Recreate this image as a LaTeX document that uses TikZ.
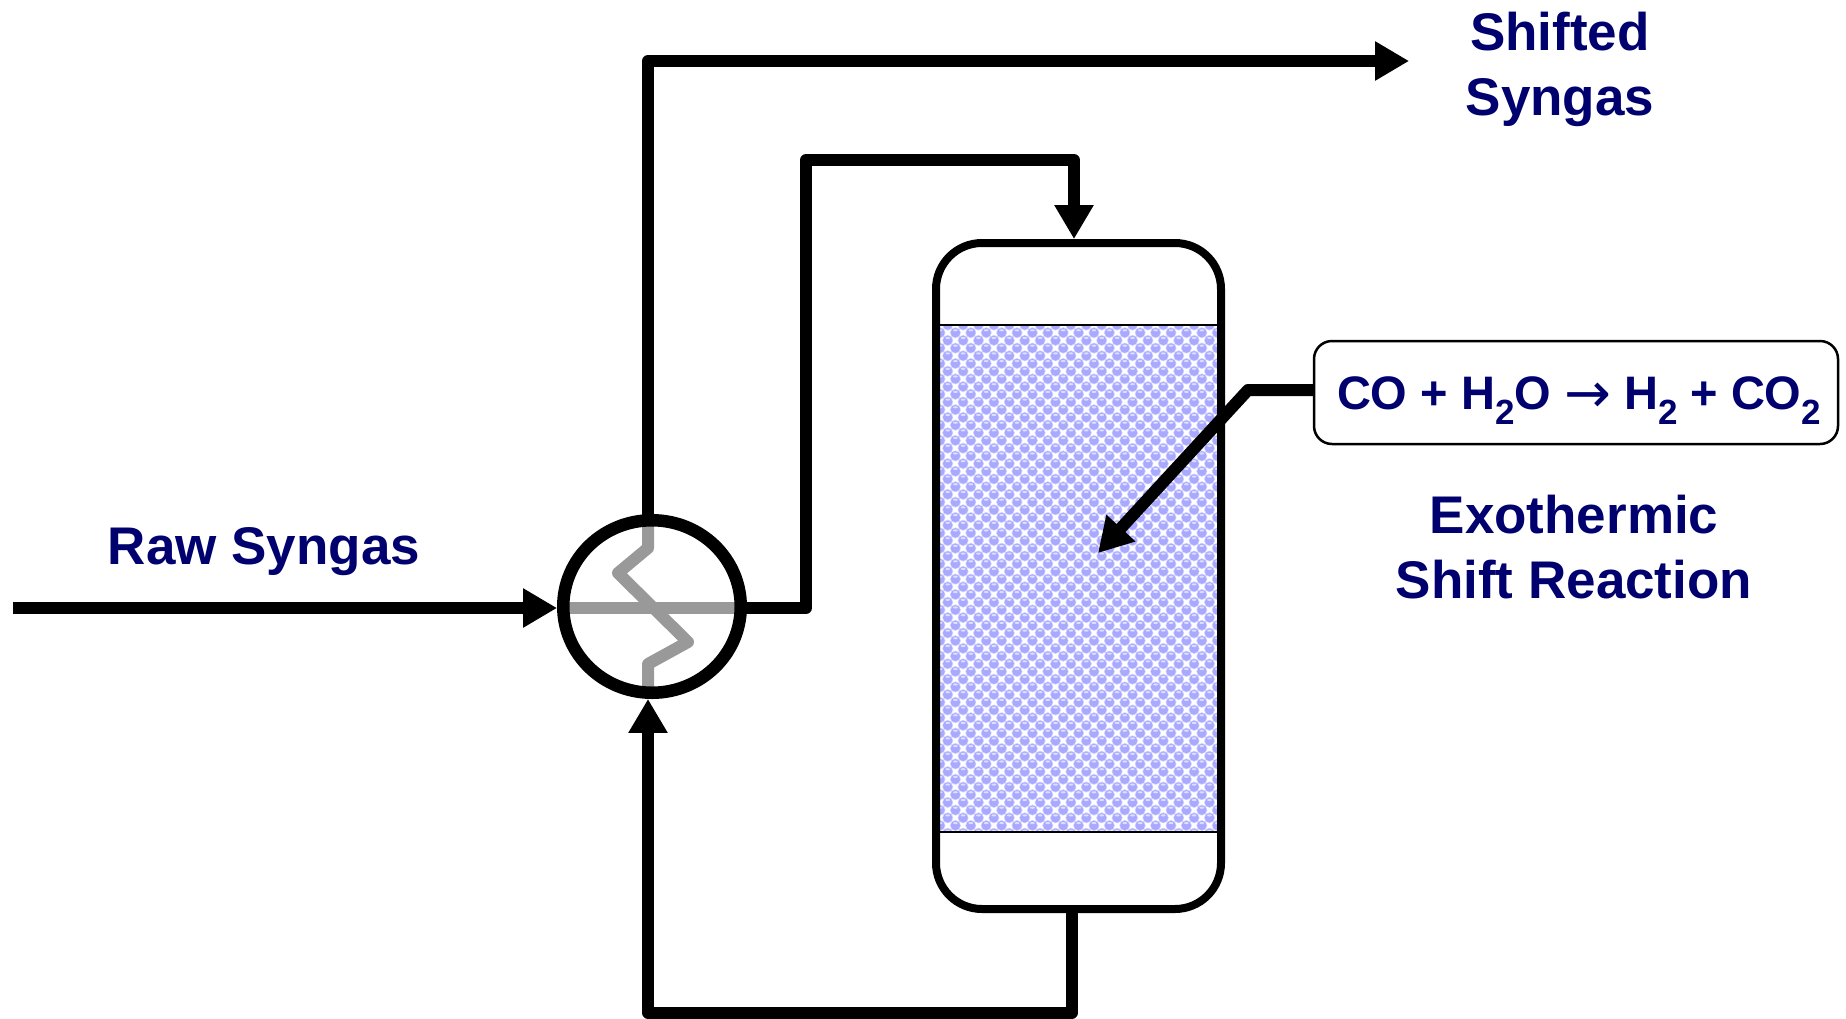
\documentclass[tikz,border=0pt]{standalone}
\usepackage{fontspec}
\setmainfont{Liberation Sans}
\newfontfamily\arrowfont{DejaVu Sans}
\usepackage{tikz}
\usetikzlibrary{arrows.meta, shapes.geometric}

\definecolor{labelnavy}{HTML}{00006E}
\definecolor{coilgrey}{HTML}{999999}
\definecolor{bedblue}{HTML}{A9A9FF}
\definecolor{bedring}{HTML}{D4D4FF}
\definecolor{bedlight}{HTML}{DDDDFF}

\tikzset{
  pipe/.style = {draw=black, line width=12pt, line join=round},
  feed/.style = {pipe, -{Triangle[length=34pt,width=37pt]}, shorten >=-0.1pt},
  coil/.style = {draw=coilgrey, line width=12pt, line join=round},
  label/.style = {text=labelnavy, font=\fontsize{53}{65}\selectfont\bfseries, align=center, inner sep=0pt},
}
\newcommand{\sbs}[1]{\raisebox{-0.32em}{\fontsize{35}{35}\selectfont #1}}

\begin{document}
\begin{tikzpicture}[x=1pt, y=-1pt]
\useasboundingbox (0,0) rectangle (1846,1018);
% packed bed
\begin{scope}
\clip (940,325) rectangle (1217,832);
\fill[white] (940,325) rectangle (1217,832);
\foreach \row in {0,...,66} {
  \pgfmathsetmacro{\yy}{325+7.7*\row}
  \pgfmathsetmacro{\xo}{940+7.7*mod(\row+1,2)}
  \foreach \col in {0,...,18} {
    \fill[bedring] (\xo+15.4*\col,\yy) circle (5.5);
    \fill[bedblue] (\xo+15.4*\col,\yy) circle (4.7);
    \fill[bedlight] (\xo+15.4*\col,\yy-2.4) ellipse (2.4 and 1.1);
  }
}
\end{scope}
\coordinate (bedtl) at (936,325);
\coordinate (bedtr) at (1221,325);
\coordinate (bedbl) at (936,832);
\coordinate (bedbr) at (1221,832);
\draw[line width=2pt] (bedtl) -- (bedtr);
\draw[line width=2pt] (bedbl) -- (bedbr);
\node[draw, line width=8pt, rounded corners=46pt, minimum width=285pt, minimum height=666pt, inner sep=0pt, outer sep=0pt] (reactor) at (1078.5,576) {};

% exchanger
\coordinate (c1) at (648,526);
\coordinate (c2) at (648,548);
\coordinate (c3) at (618,573);
\coordinate (c4) at (688,642);
\coordinate (c5) at (648,664);
\coordinate (c6) at (648,688);
\coordinate (c7) at (566,608);
\coordinate (c8) at (738,608);
\draw[coil] (c1) -- (c2) -- (c3) -- (c4) -- (c5) -- (c6);
\draw[coil] (c7) -- (c8);
\node[draw, ellipse, line width=12.5pt, minimum width=177.5pt, minimum height=172.5pt, inner sep=0pt, outer sep=0pt] (hx) at (652,606.5) {};

% streams
\coordinate (in) at (13,608);
\coordinate (hxin) at (557,608);
\coordinate (hxout) at (648,516);
\coordinate (hxhot) at (744,608);
\coordinate (hxbot) at (648,699);
\coordinate (a1) at (648,61);
\coordinate (a2) at (1409,61);
\coordinate (b1) at (806,608);
\coordinate (b2) at (806,160);
\coordinate (b3) at (1074,160);
\coordinate (b4) at (1074,239);
\coordinate (d1) at (1072,912);
\coordinate (d2) at (1072,1012.5);
\coordinate (d3) at (648,1012.5);
\draw[feed] (in) -- (hxin);
\draw[feed] (hxout) -- (a1) -- (a2);
\draw[feed] (hxhot) -- (b1) -- (b2) -- (b3) -- (b4);
\draw[feed] (d1) -- (d2) -- (d3) -- (hxbot);

% labels
\node[label] (raw) at (264,552) {Raw Syngas};
\node[label] (shifted) at (1560,69.5) {Shifted\\Syngas};
\node[label] (exo) at (1574,547.5) {Exothermic\\Shift Reaction};
\node[draw, line width=2.5pt, rounded corners=18pt, minimum width=524pt, minimum height=103pt, inner sep=0pt, outer sep=0pt, text=labelnavy, font=\fontsize{47}{47}\selectfont\bfseries] (rxn) at (1576,392.5) {\hspace{6pt}\raisebox{-17pt}[0pt][0pt]{CO + H\sbs{2}O {\arrowfont\mdseries\fontsize{56}{56}\selectfont\raisebox{-3pt}{→}} H\sbs{2} + CO\sbs{2}}};
\coordinate (e1) at (1248,390);
\coordinate (e2) at (1098,553);
\draw[feed] (rxn.west |- e1) -- (e1) -- (e2);
\end{tikzpicture}
\end{document}
